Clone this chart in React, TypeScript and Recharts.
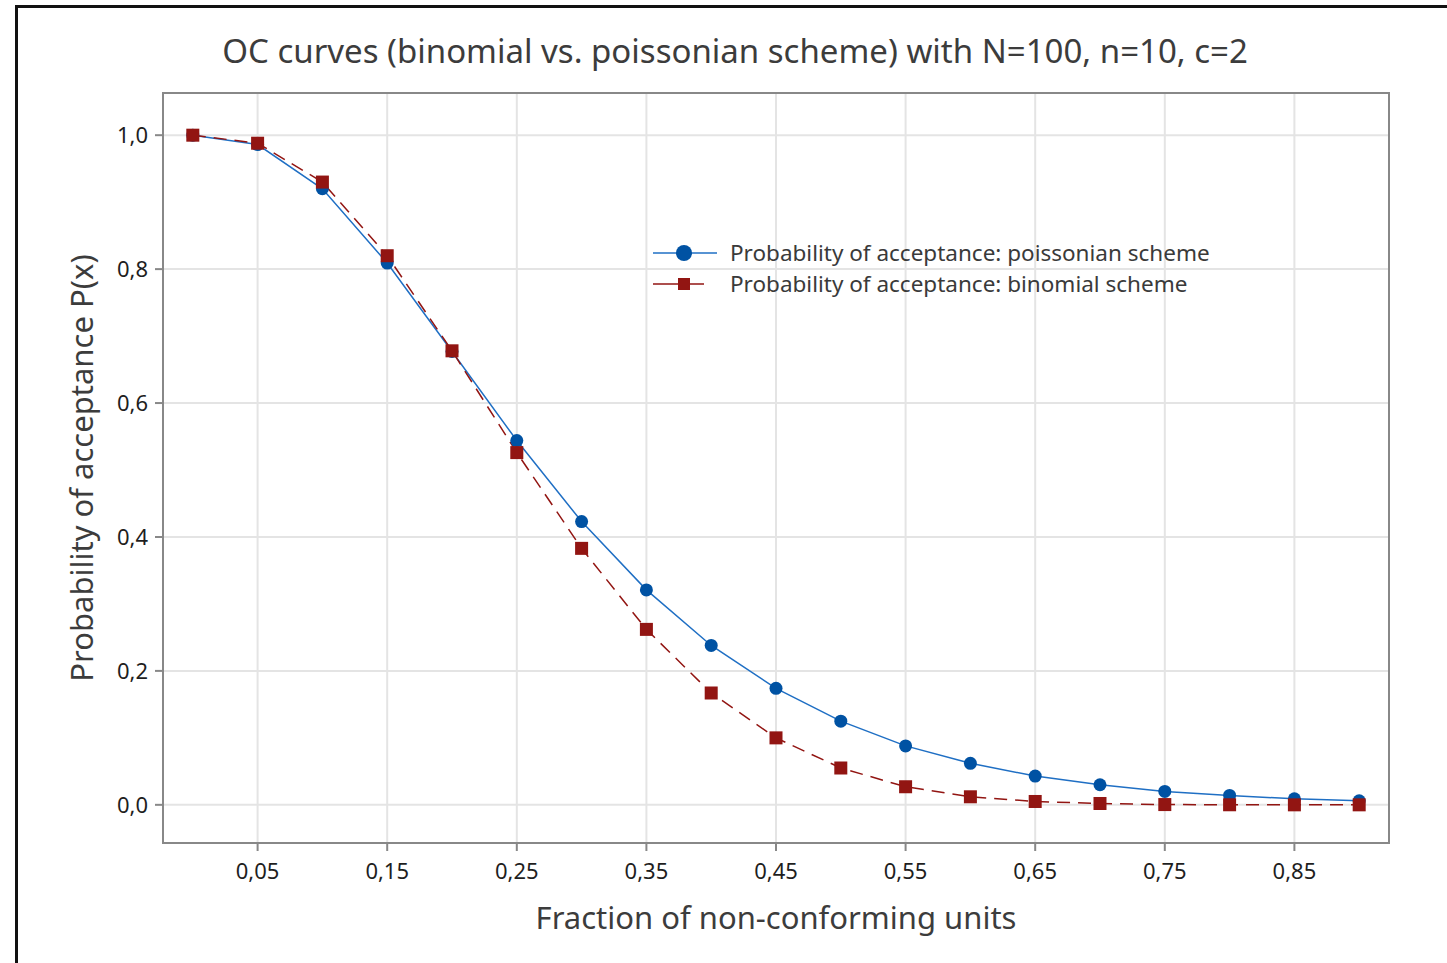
import React from "react";
import {
  LineChart,
  Line,
  XAxis,
  YAxis,
  CartesianGrid,
  ReferenceArea,
  Label,
} from "recharts";

// fraction of non-conforming units p
const fractions = [
  0, 0.05, 0.1, 0.15, 0.2, 0.25, 0.3, 0.35, 0.4, 0.45, 0.5, 0.55, 0.6, 0.65,
  0.7, 0.75, 0.8, 0.85, 0.9,
];
// probability of acceptance, poissonian scheme
const poissonPa = [
  1.0, 0.986, 0.92, 0.809, 0.677, 0.544, 0.423, 0.321, 0.238, 0.174, 0.125,
  0.088, 0.062, 0.043, 0.03, 0.02, 0.014, 0.009, 0.006,
];
// probability of acceptance, binomial scheme
const binomialPa = [
  1.0, 0.988, 0.93, 0.82, 0.678, 0.526, 0.383, 0.262, 0.167, 0.1, 0.055, 0.027,
  0.012, 0.005, 0.002, 0.0004, 0.0001, 0.0, 0.0,
];

const xTicks = [0.05, 0.15, 0.25, 0.35, 0.45, 0.55, 0.65, 0.75, 0.85];
const yTicks = [0, 0.2, 0.4, 0.6, 0.8, 1.0];

const X_DOMAIN = [-0.023, 0.923];
const Y_DOMAIN = [-0.057, 1.063];

const BLUE_LINE = "#1f6fc4";
const BLUE_DOT = "#0052a3";
const RED = "#921512";
const FONT = "'Noto Sans', 'Open Sans', sans-serif";

const data = fractions.map((p, i) => ({
  p,
  poisson: poissonPa[i],
  binomial: binomialPa[i],
}));

const comma = (v: number, digits: number) => v.toFixed(digits).replace(".", ",");

const CircleDot = (props: any) => {
  const { cx, cy, index } = props;
  if (cx == null || cy == null) return null;
  return <circle key={`c-${index}`} cx={cx} cy={cy} r={6.5} fill={BLUE_DOT} />;
};

const SquareDot = (props: any) => {
  const { cx, cy, index } = props;
  if (cx == null || cy == null) return null;
  return (
    <rect
      key={`s-${index}`}
      x={cx - 6.5}
      y={cy - 6.5}
      width={13}
      height={13}
      fill={RED}
    />
  );
};

function LegendBox() {
  const rows = [
    { label: "Probability of acceptance: poissonian scheme", kind: "circle" },
    { label: "Probability of acceptance: binomial scheme", kind: "square" },
  ];
  return (
    <div
      style={{
        position: "absolute",
        left: 652,
        top: 237,
        fontFamily: FONT,
        fontSize: 22.5,
        color: "#3a3a3a",
        whiteSpace: "nowrap",
      }}
    >
      {rows.map((r) => (
        <div
          key={r.label}
          style={{ display: "flex", alignItems: "center", height: 31 }}
        >
          <svg width={66} height={20} style={{ marginRight: 12 }}>
            {r.kind === "circle" ? (
              <>
                <line x1={1} y1={10} x2={65} y2={10} stroke={BLUE_LINE} strokeWidth={1.5} />
                <circle cx={32} cy={10} r={8} fill={BLUE_DOT} />
              </>
            ) : (
              <>
                <line x1={1} y1={10} x2={52} y2={10} stroke={RED} strokeWidth={1.5} />
                <rect x={26} y={4} width={12} height={12} fill={RED} />
              </>
            )}
          </svg>
          <span>{r.label}</span>
        </div>
      ))}
    </div>
  );
}

export default function App() {
  return (
    <div
      style={{
        position: "absolute",
        left: 0,
        top: 0,
        width: 1447,
        height: 963,
        overflow: "hidden",
        background: "#fff",
      }}
    >
      <div
        style={{
          position: "absolute",
          left: 15,
          top: 5,
          width: 1500,
          height: 1000,
          borderLeft: "3px solid #111",
          borderTop: "3px solid #111",
        }}
      />
      <div
        style={{
          position: "absolute",
          left: 0,
          width: 1470,
          top: 28,
          textAlign: "center",
          fontFamily: FONT,
          fontSize: 33,
          color: "#3c3c3c",
          whiteSpace: "nowrap",
        }}
      >
        OC curves (binomial vs. poissonian scheme) with N=100, n=10, c=2
      </div>
      <div style={{ position: "absolute", left: 0, top: 0 }}>
        <LineChart
          width={1447}
          height={963}
          data={data}
          margin={{ top: 93, right: 58, bottom: 20, left: 63 }}
        >
          <CartesianGrid stroke="#e4e4e4" strokeWidth={2} />
          <XAxis
            dataKey="p"
            type="number"
            domain={X_DOMAIN}
            ticks={xTicks}
            allowDataOverflow
            tickFormatter={(v) => comma(v, 2)}
            tick={{ fontSize: 22, fill: "#1e1e1e", fontFamily: FONT }}
            tickSize={8}
            tickMargin={12}
            tickLine={{ stroke: "#888", strokeWidth: 2 }}
            axisLine={{ stroke: "#888", strokeWidth: 2 }}
            height={100}
          >
            <Label
              value="Fraction of non-conforming units"
              position="insideBottom"
              offset={14}
              style={{ fontSize: 31, fill: "#3c3c3c", fontFamily: FONT }}
            />
          </XAxis>
          <YAxis
            type="number"
            domain={Y_DOMAIN}
            ticks={yTicks}
            allowDataOverflow
            tickFormatter={(v) => comma(v, 1)}
            tick={{ fontSize: 22, fill: "#1e1e1e", fontFamily: FONT }}
            tickSize={8}
            tickMargin={7}
            tickLine={{ stroke: "#888", strokeWidth: 2 }}
            axisLine={{ stroke: "#888", strokeWidth: 2 }}
            width={100}
          >
            <Label
              value="Probability of acceptance P(x)"
              angle={-90}
              position="insideLeft"
              offset={19}
              style={{
                fontSize: 31,
                fill: "#3c3c3c",
                fontFamily: FONT,
                textAnchor: "middle",
              }}
            />
          </YAxis>
          <ReferenceArea
            x1={X_DOMAIN[0]}
            x2={X_DOMAIN[1]}
            y1={Y_DOMAIN[0]}
            y2={Y_DOMAIN[1]}
            fill="none"
            stroke="#888"
            strokeWidth={2}
            ifOverflow="visible"
          />
          <Line
            type="linear"
            dataKey="poisson"
            stroke={BLUE_LINE}
            strokeWidth={1.5}
            dot={CircleDot}
            activeDot={false}
            isAnimationActive={false}
          />
          <Line
            type="linear"
            dataKey="binomial"
            stroke={RED}
            strokeWidth={1.5}
            strokeDasharray="13 8"
            dot={SquareDot}
            activeDot={false}
            isAnimationActive={false}
          />
        </LineChart>
      </div>
      <LegendBox />
    </div>
  );
}
